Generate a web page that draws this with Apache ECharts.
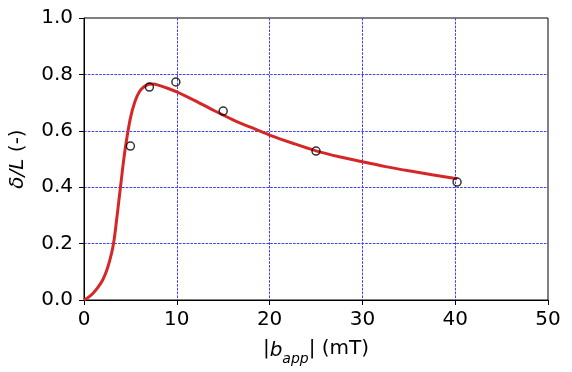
<!DOCTYPE html>
<html>
<head>
<meta charset="utf-8">
<script src="https://cdn.jsdelivr.net/npm/echarts@6/dist/echarts.min.js"></script>
<style>html,body{margin:0;padding:0;background:#fff;}#c{width:572px;height:372px;}</style>
</head>
<body>
<div id="c"></div>
<script>
// Model curve
const curveX = [0, 0.5, 1, 1.5, 2, 2.5, 3, 3.25, 3.5, 3.75, 4, 4.25, 4.5, 5, 5.5, 6, 6.5, 7, 7.5, 8, 9, 10, 12, 14, 16, 18, 20, 22.5, 25, 27.5, 30, 32.5, 35, 37.5, 40.2];
const curveY = [0, 0.01, 0.025, 0.045, 0.07, 0.11, 0.17, 0.215, 0.28, 0.35, 0.42, 0.49, 0.55, 0.645, 0.705, 0.74, 0.757, 0.765, 0.766, 0.762, 0.751, 0.738, 0.706, 0.672, 0.64, 0.612, 0.585, 0.556, 0.529, 0.508, 0.49, 0.473, 0.458, 0.444, 0.43];
// Measured points
const measX = [5.0, 7.05, 9.9, 15.0, 25.0, 40.2];
const measY = [0.546, 0.755, 0.773, 0.670, 0.528, 0.418];
// Axes
const xTicks = [0, 10, 20, 30, 40, 50];
const yTicks = [0.0, 0.2, 0.4, 0.6, 0.8, 1.0];

const font = 'DejaVu Sans';
const fs = 20;
const chart = echarts.init(document.getElementById('c'), null, {renderer: 'canvas'});
const gridLine = {show: true, showMinLine: false, showMaxLine: false, lineStyle: {color: '#3f3fff', width: 1, type: [2.6, 1.2]}};
chart.setOption({
  animation: false,
  grid: {left: 84, right: 24, top: 18, bottom: 72, show: true, borderColor: '#000', borderWidth: 1, backgroundColor: 'transparent'},
  xAxis: {
    type: 'value', min: xTicks[0], max: xTicks[xTicks.length - 1], interval: 10,
    axisLine: {show: true, onZero: false, lineStyle: {color: '#000', width: 1}},
    axisTick: {show: true, inside: false, length: 5, lineStyle: {color: '#000', width: 1}},
    axisLabel: {color: '#000', fontFamily: font, fontSize: fs, margin: 10},
    splitLine: gridLine,
    name: '|{i|b}{s|app}| (mT)',
    nameLocation: 'middle', nameGap: 37,
    nameTextStyle: {color: '#000', fontFamily: font, fontSize: fs,
      rich: {i: {fontFamily: font, fontSize: fs, fontStyle: 'italic', color: '#000', verticalAlign: 'bottom', lineHeight: 24},
             s: {fontFamily: font, fontSize: 14, fontStyle: 'italic', color: '#000', verticalAlign: 'bottom', lineHeight: 14, padding: [0, 0, -5, 0]}}}
  },
  yAxis: {
    type: 'value', min: yTicks[0], max: yTicks[yTicks.length - 1], interval: 0.2,
    axisLine: {show: true, onZero: false, lineStyle: {color: '#000', width: 1}},
    axisTick: {show: true, inside: false, length: 5, lineStyle: {color: '#000', width: 1}},
    axisLabel: {color: '#000', fontFamily: font, fontSize: fs, margin: 11, formatter: v => v.toFixed(1)},
    splitLine: gridLine,
    name: '{i|δ/L} (-)',
    nameLocation: 'middle', nameGap: 56,
    nameTextStyle: {color: '#000', fontFamily: font, fontSize: fs,
      rich: {i: {fontFamily: font, fontSize: fs, fontStyle: 'italic', color: '#000'}}}
  },
  series: [
    {type: 'line', data: curveX.map((x, i) => [x, curveY[i]]), smooth: 0.3, showSymbol: false,
     lineStyle: {color: '#d62728', width: 3}, z: 2},
    {type: 'scatter', data: measX.map((x, i) => [x, measY[i]]), symbol: 'circle', symbolSize: 8,
     itemStyle: {color: 'rgba(0,0,0,0)', borderColor: '#000', borderWidth: 1.5}, z: 3}
  ]
});
</script>
</body>
</html>
